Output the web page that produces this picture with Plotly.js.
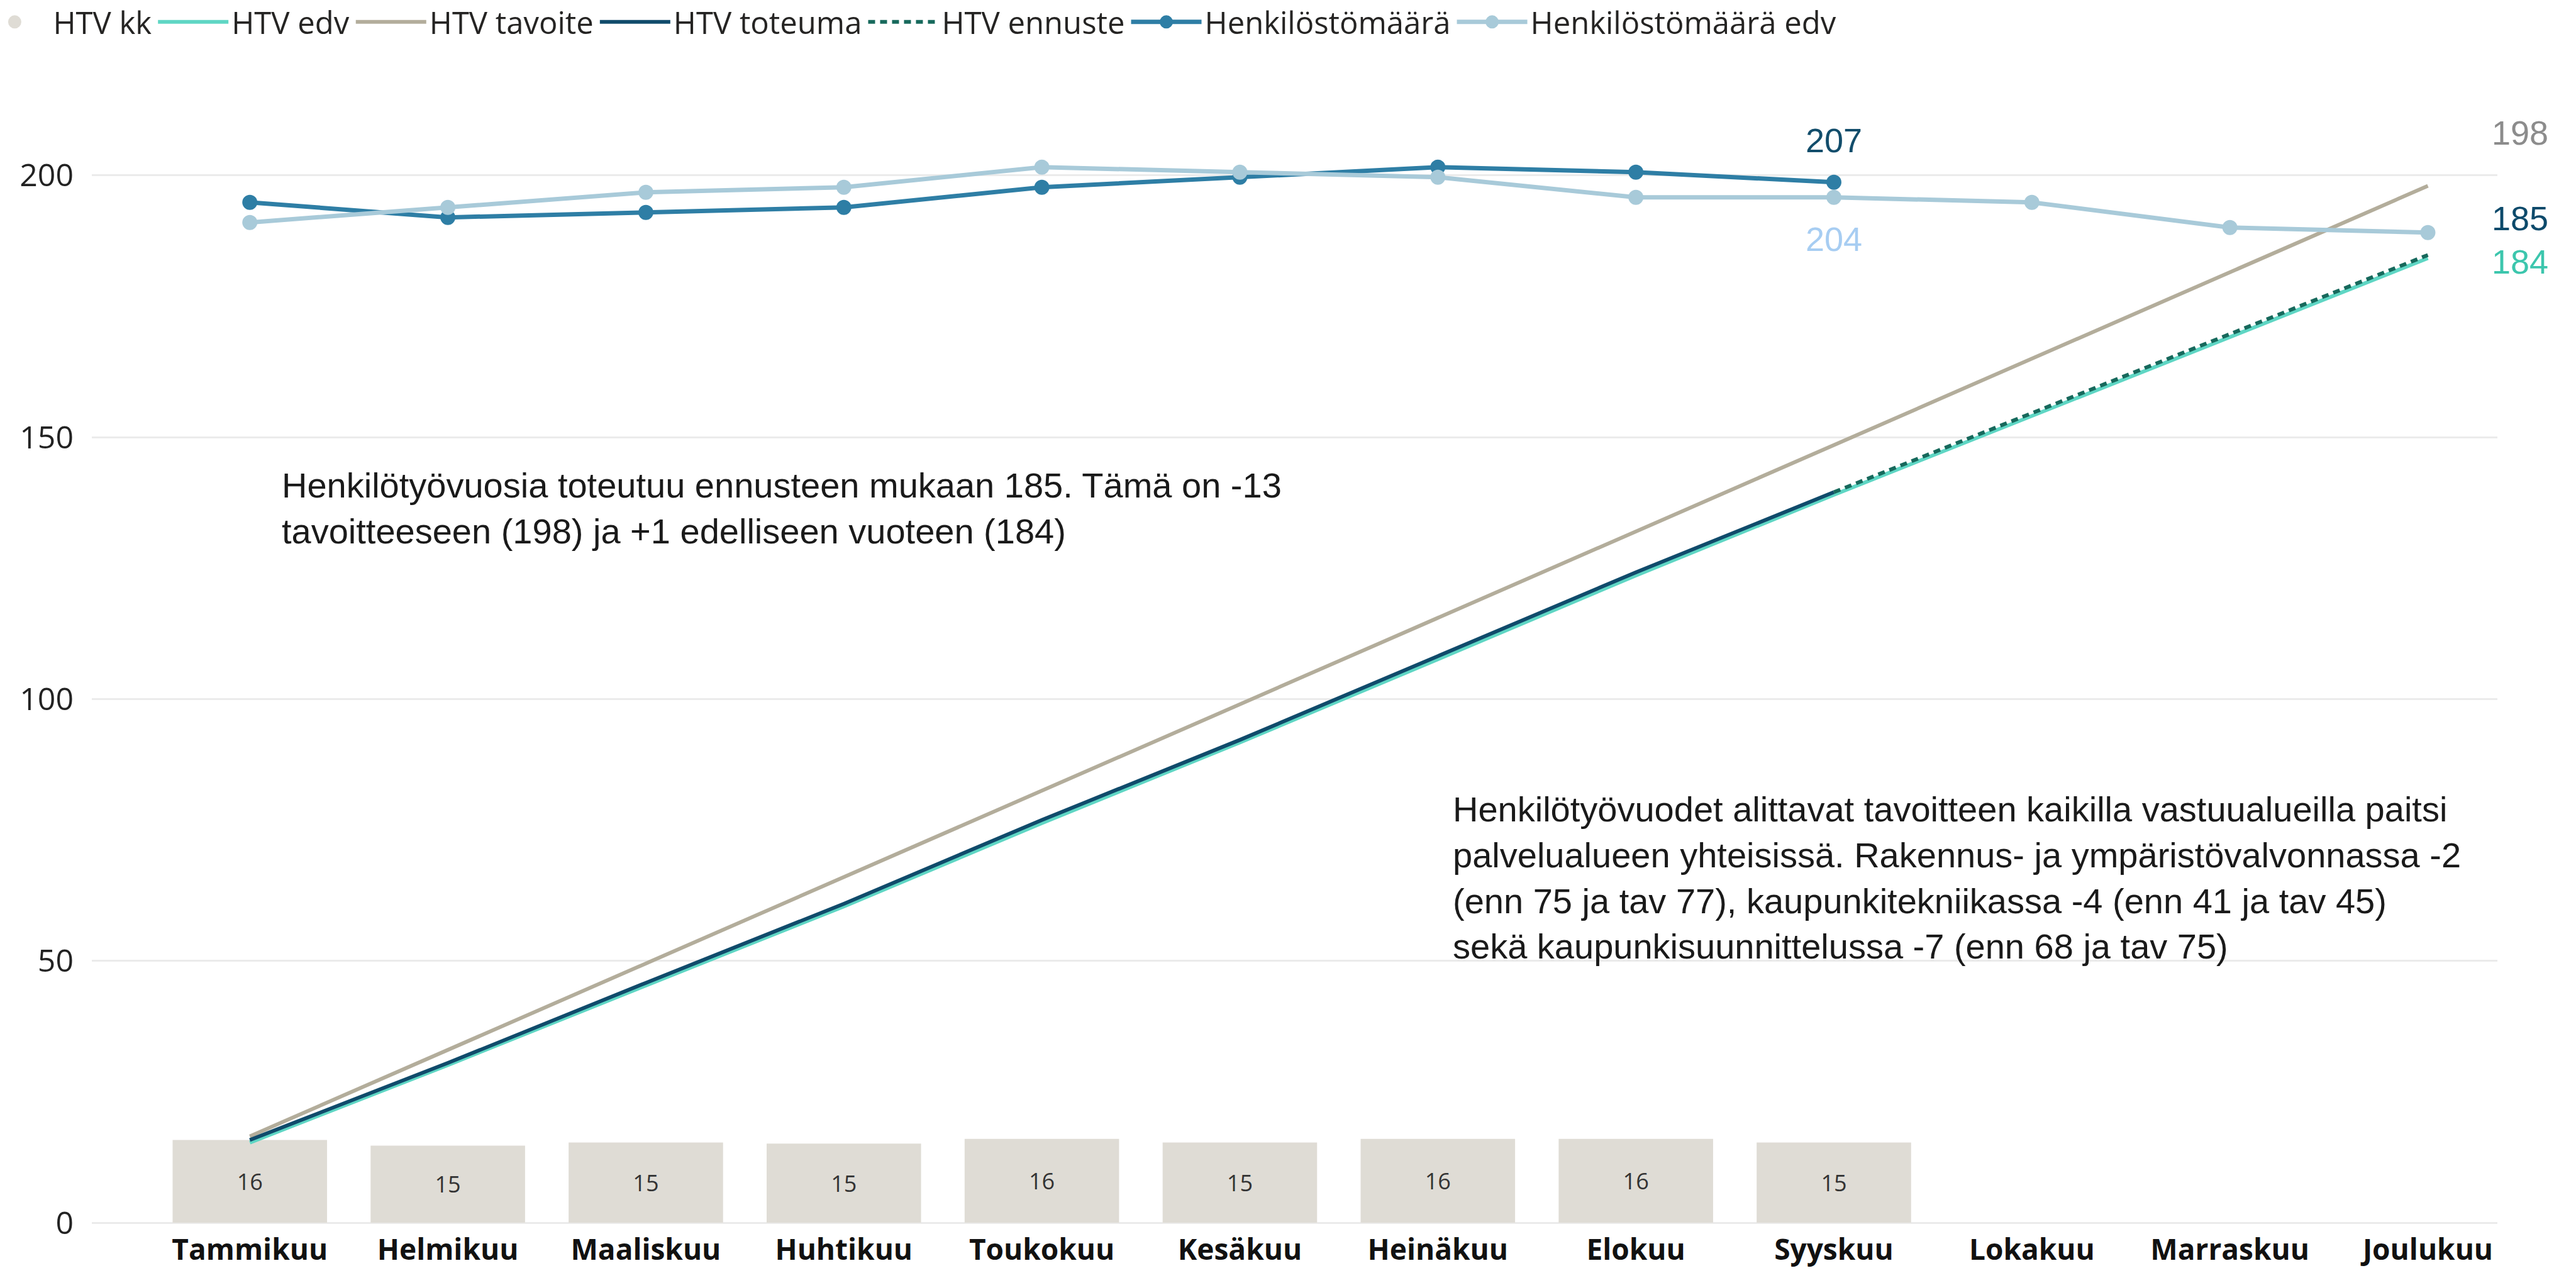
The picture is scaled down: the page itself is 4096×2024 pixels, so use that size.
<!DOCTYPE html>
<html>
<head>
<meta charset="utf-8">
<script src="https://cdn.plot.ly/plotly-3.0.1.min.js"></script>
<style>html,body{margin:0;padding:0;background:#fff;}#chart{width:4096px;height:2024px;}</style>
</head>
<body>
<div id="chart"></div>
<script>
// ---- data ----
const months = ['Tammikuu','Helmikuu','Maaliskuu','Huhtikuu','Toukokuu','Kesäkuu','Heinäkuu','Elokuu','Syyskuu','Lokakuu','Marraskuu','Joulukuu'];
const htvKk = [15.8, 14.7, 15.3, 15.1, 16.0, 15.3, 16.0, 16.0, 15.3];
const htvEdv = [15.3, 30.1, 45.3, 60.4, 76.3, 91.7, 107.6, 123.6, 139.0, 154.1, 169.2, 184.2];
const htvTavoite = [16.5, 33.0, 49.5, 66.0, 82.5, 99.0, 115.5, 132.0, 148.5, 165.0, 181.5, 198.0];
const htvToteuma = [15.8, 30.5, 45.8, 60.9, 76.9, 92.2, 108.2, 124.2, 139.5];
const ennusteMonths = ['Syyskuu','Lokakuu','Marraskuu','Joulukuu'];
const htvEnnuste = [139.5, 154.6, 169.7, 184.8];
const henkilosto = [203, 200, 201, 202, 206, 208, 210, 209, 207];
const henkilostoEdv = [199, 202, 205, 206, 210, 209, 208, 204, 204, 203, 198, 197];
const yTicks = [0, 50, 100, 150, 200];

// ---- styling ----
const C = {
  kk: '#dfdcd5', edv: '#5fd6c4', tav: '#b3ad9b', tot: '#104b6b', enn: '#17695c',
  henk: '#2e7ea5', henkEdv: '#a8cad9'
};
const Y1MAX = 215, Y2RATIO = 1.0418;
const lastHenk = henkilosto.length - 1;

const traces = [
  {type:'scatter', mode:'markers', name:'HTV kk', x:[null], y:[null], legendgroup:'kk',
   marker:{symbol:'circle', size:16, color:C.kk, line:{color:C.kk, width:5}}, hoverinfo:'skip'},
  {type:'bar', name:'HTV kk', x:months.slice(0, htvKk.length), y:htvKk, legendgroup:'kk', showlegend:false,
   marker:{color:C.kk}, width:0.78,
   text:htvKk.map(v => v.toFixed(0)), textposition:'inside', insidetextanchor:'middle', textangle:0,
   textfont:{family:'Open Sans', size:36, color:'#333'}, constraintext:'none'},
  {type:'scatter', mode:'lines', name:'HTV edv', x:months, y:htvEdv, line:{color:C.edv, width:6}},
  {type:'scatter', mode:'lines', name:'HTV tavoite', x:months, y:htvTavoite, line:{color:C.tav, width:6}},
  {type:'scatter', mode:'lines', name:'HTV toteuma', x:months.slice(0, htvToteuma.length), y:htvToteuma, line:{color:C.tot, width:6}},
  {type:'scatter', mode:'lines', name:'HTV ennuste', x:ennusteMonths, y:htvEnnuste, line:{color:C.enn, width:6, dash:'11px,8px'}},
  {type:'scatter', mode:'lines+markers', name:'Henkilöstömäärä', x:months.slice(0, henkilosto.length), y:henkilosto, yaxis:'y2',
   line:{color:C.henk, width:7}, marker:{size:19, color:C.henk, line:{color:C.henk, width:5}}},
  {type:'scatter', mode:'lines+markers', name:'Henkilöstömäärä edv', x:months, y:henkilostoEdv, yaxis:'y2',
   line:{color:C.henkEdv, width:7}, marker:{size:19, color:C.henkEdv, line:{color:C.henkEdv, width:5}}}
];

const labFont = (c) => ({family:'Liberation Sans', size:54, color:c});

const annotations = [
  {xref:'x', yref:'y', x:months[11], y:htvTavoite[11], text:htvTavoite[11].toFixed(0), showarrow:false,
   xanchor:'left', yanchor:'middle', xshift:100, yshift:85, font:labFont('#8c8c8c')},
  {xref:'x', yref:'y', x:months[11], y:htvEnnuste[htvEnnuste.length-1], text:htvEnnuste[htvEnnuste.length-1].toFixed(0), showarrow:false,
   xanchor:'left', yanchor:'middle', xshift:100, yshift:58, font:labFont('#0d4a6b')},
  {xref:'x', yref:'y', x:months[11], y:htvEdv[11], text:htvEdv[11].toFixed(0), showarrow:false,
   xanchor:'left', yanchor:'middle', xshift:100, yshift:-6, font:labFont('#3cc6ad')},
  {xref:'x', yref:'y2', x:months[lastHenk], y:henkilosto[lastHenk], text:String(henkilosto[lastHenk]), showarrow:false,
   xanchor:'center', yanchor:'middle', yshift:67, font:labFont('#124d6b')},
  {xref:'x', yref:'y2', x:months[lastHenk], y:henkilostoEdv[lastHenk], text:String(henkilostoEdv[lastHenk]), showarrow:false,
   xanchor:'center', yanchor:'middle', yshift:-66, font:labFont('#a7cdf2')},
  {xref:'paper', yref:'paper', x:0.0785, y:0.674, xanchor:'left', yanchor:'top', align:'left', showarrow:false,
   text:'Henkilötyövuosia toteutuu ennusteen mukaan 185. Tämä on -13<br>tavoitteeseen (198) ja +1 edelliseen vuoteen (184)',
   font:{family:'Liberation Sans', size:56, color:'#1a1a1a'}},
  {xref:'paper', yref:'paper', x:0.5652, y:0.3858, xanchor:'left', yanchor:'top', align:'left', showarrow:false,
   text:'Henkilötyövuodet alittavat tavoitteen kaikilla vastuualueilla paitsi<br>palvelualueen yhteisissä. Rakennus- ja ympäristövalvonnassa -2<br>(enn 75 ja tav 77), kaupunkitekniikassa -4 (enn 41 ja tav 45)<br>sekä kaupunkisuunnittelussa -7 (enn 68 ja tav 75)',
   font:{family:'Liberation Sans', size:56, color:'#1a1a1a'}}
];

const layout = {
  width:4096, height:2024,
  margin:{l:146, r:125, t:154, b:80, pad:0, autoexpand:false},
  paper_bgcolor:'#ffffff', plot_bgcolor:'#ffffff',
  showlegend:true,
  legend:{orientation:'h', x:-0.048, xanchor:'left', y:1.088, yanchor:'top',
          font:{family:'Open Sans', size:49, color:'#252423'}, itemwidth:112, bgcolor:'rgba(0,0,0,0)',
          traceorder:'normal'},
  xaxis:{type:'category', categoryorder:'array', categoryarray:months, range:[-0.798, 11.351],
         showgrid:false, zeroline:false, showline:false, ticks:'', ticklabelstandoff:12,
         tickfont:{family:'Open Sans', size:46, weight:700, color:'#111'}, fixedrange:true},
  yaxis:{range:[0, Y1MAX], tickvals:yTicks, ticktext:yTicks.map(String), showgrid:true, gridcolor:'#ebebeb', gridwidth:3,
         zeroline:true, zerolinecolor:'#ebebeb', zerolinewidth:3, showline:false, ticks:'', ticklabelstandoff:28,
         tickfont:{family:'Open Sans', size:50, color:'#222'}},
  yaxis2:{overlaying:'y', side:'right', range:[0, Y1MAX*Y2RATIO], visible:false, showgrid:false, zeroline:false},
  annotations:annotations
};

Plotly.newPlot('chart', traces, layout, {staticPlot:true, displayModeBar:false});
</script>
</body>
</html>
